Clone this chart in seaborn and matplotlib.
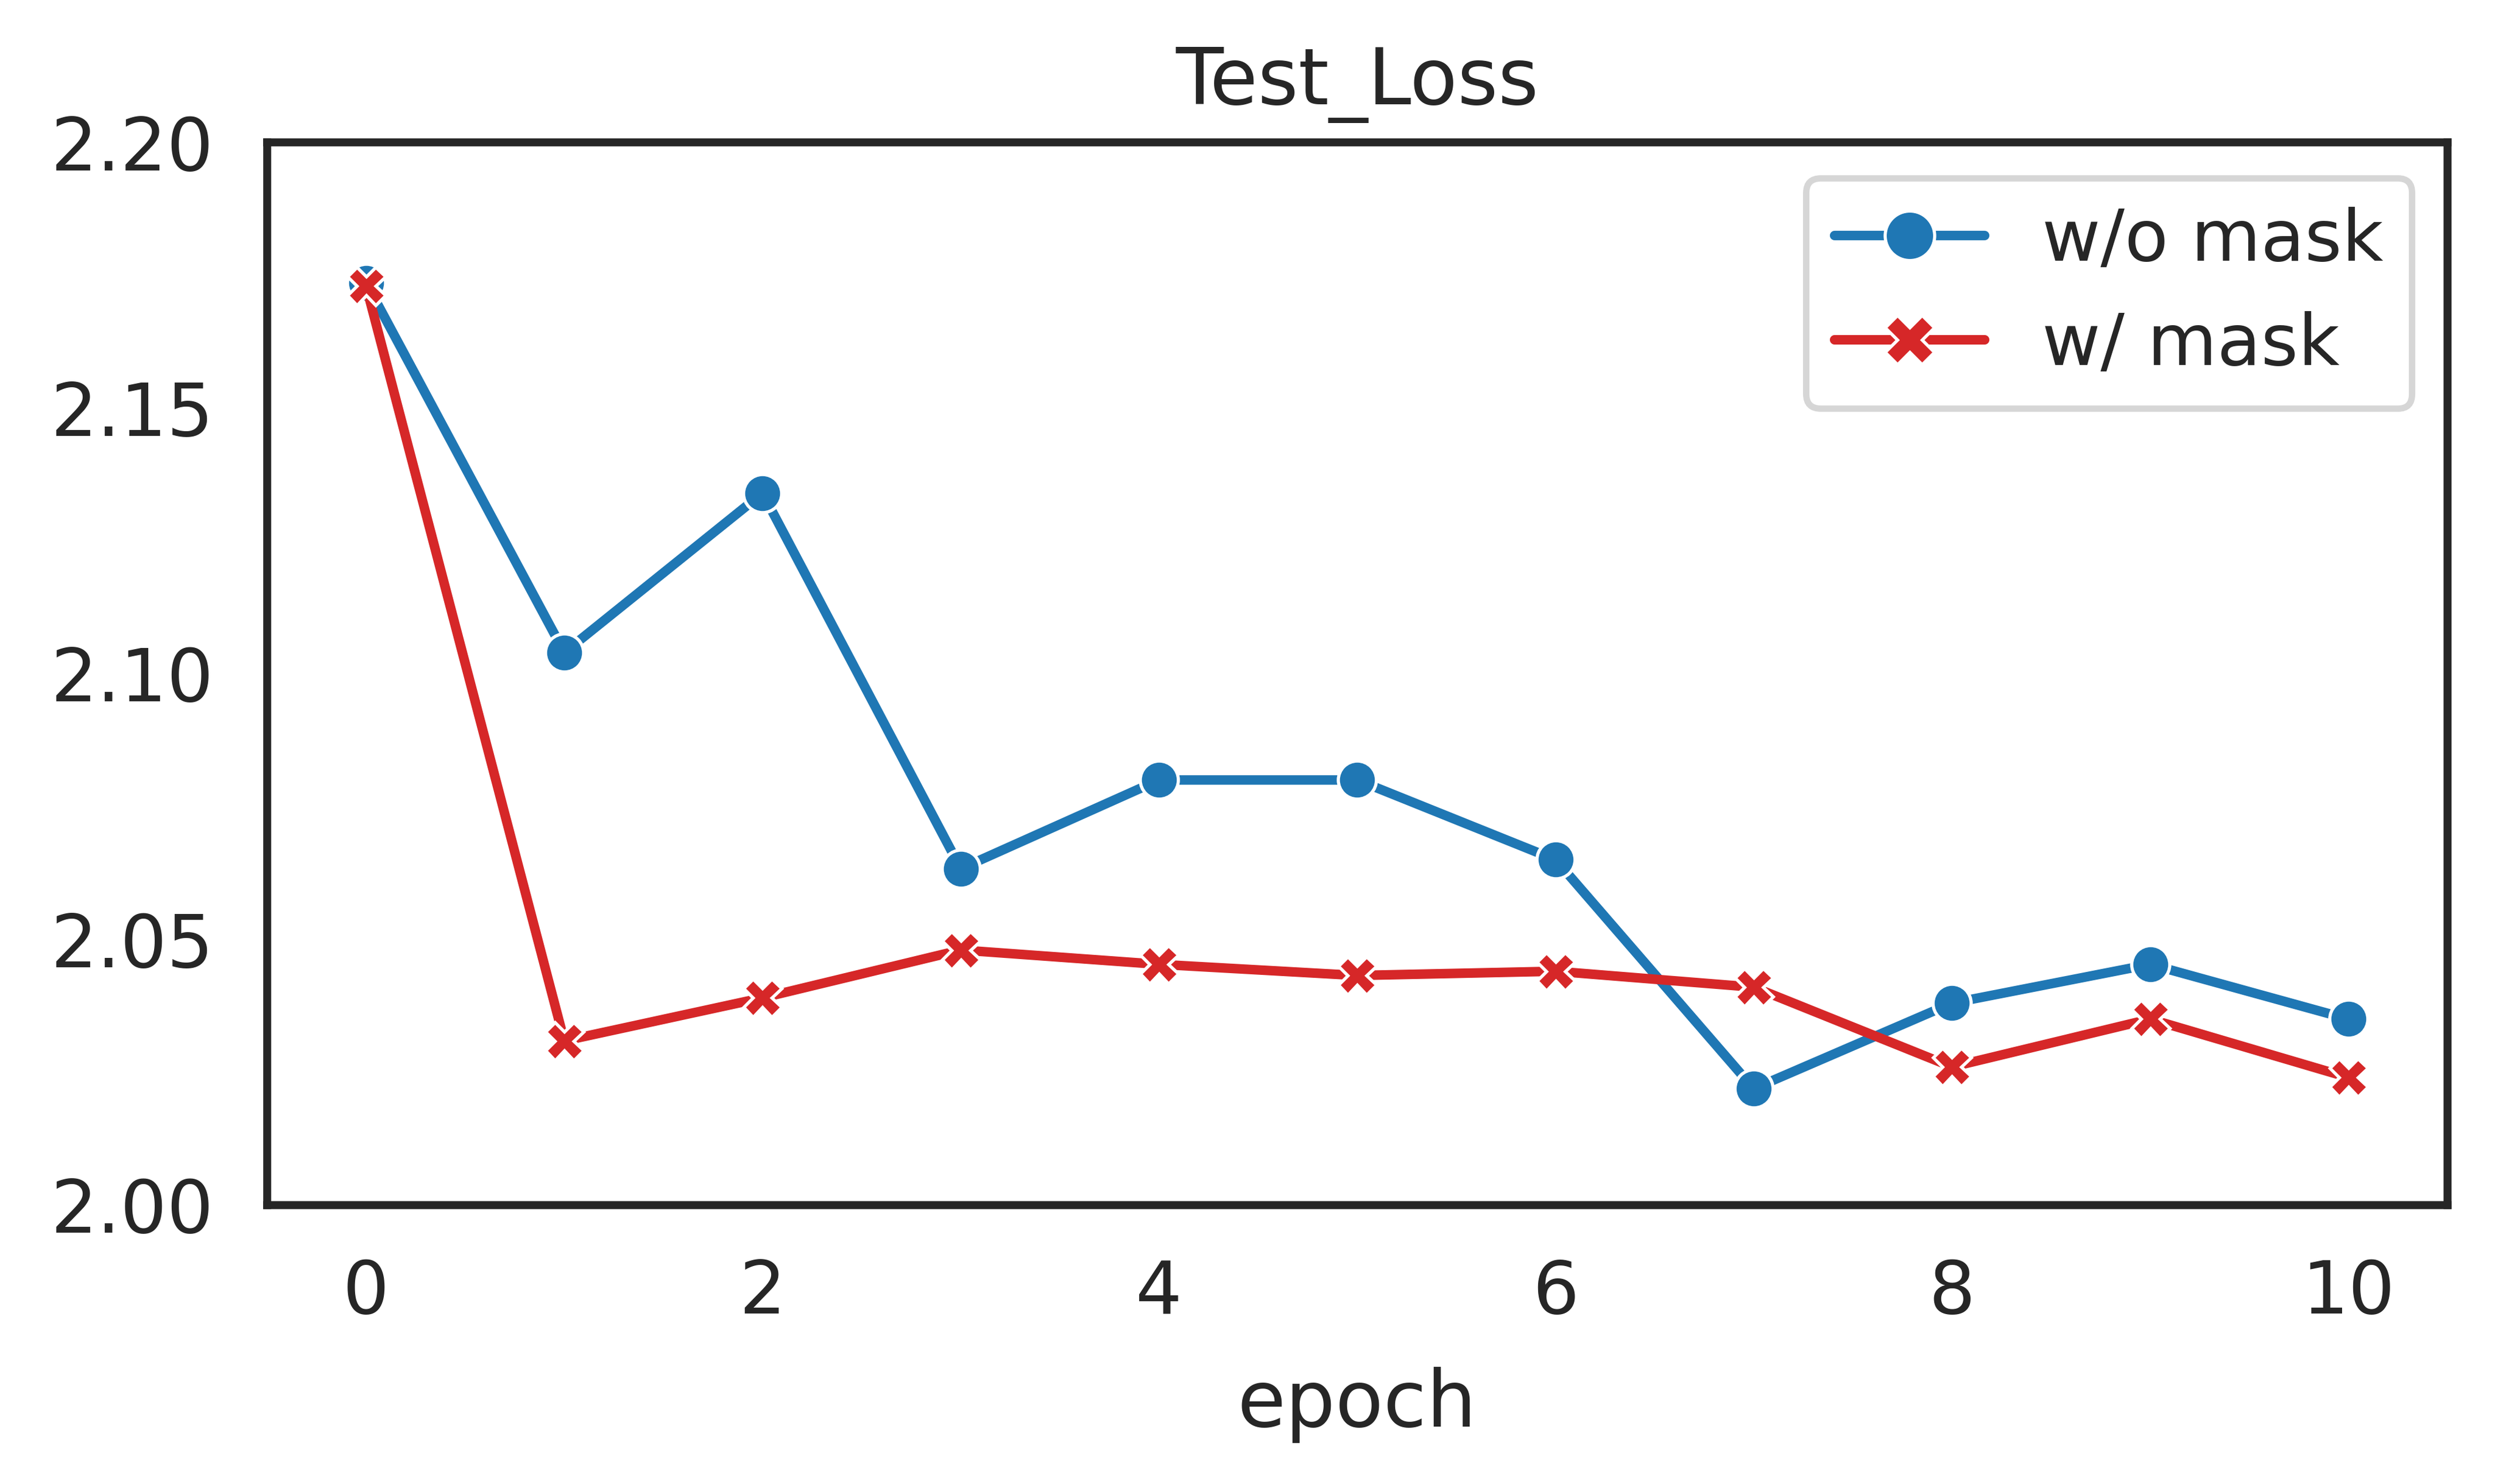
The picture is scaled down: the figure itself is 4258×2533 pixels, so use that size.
import numpy as np
import matplotlib
matplotlib.use("Agg")
import matplotlib.pyplot as plt
import seaborn as sns
import pandas as pd

epochs = list(range(11))
loss_no_mask = [2.1736, 2.104, 2.134, 2.0633, 2.080, 2.080, 2.065, 2.0219, 2.038, 2.0453, 2.035]
loss_mask = [2.173, 2.0309, 2.039, 2.048, 2.0453, 2.0432, 2.044, 2.041, 2.026, 2.035, 2.024]
labels = ["w/o mask", "w/ mask"]
colors = ["#1f77b4", "#d62728"]

df = pd.DataFrame({
    "epoch": epochs * 2,
    "loss": loss_no_mask + loss_mask,
    "model": [labels[0]] * len(epochs) + [labels[1]] * len(epochs),
})

sns.set_theme(context="talk", style="white")

dpi = 520
fig, ax = plt.subplots(figsize=(4258 / dpi, 2533 / dpi))
sns.lineplot(data=df, x="epoch", y="loss", hue="model", style="model",
             hue_order=labels, style_order=labels, palette=colors,
             markers=True, dashes=False, ax=ax)
ax.set_ylim(2.00, 2.20)
ax.set_xticks([0, 2, 4, 6, 8, 10])
ax.set_yticks([2.00, 2.05, 2.10, 2.15, 2.20])
ax.tick_params(axis="both", labelsize=17.3)
ax.set_ylabel("")
ax.set_xlabel("epoch", fontsize=18.6, labelpad=9)
ax.set_title("Test_Loss", fontsize=18.4, pad=9)
ax.legend(loc="upper right", markerscale=1.3, fontsize=16.9, handlelength=2.1)
plt.subplots_adjust(left=0.107, right=0.981, top=0.904, bottom=0.188)
fig.savefig("out.png", dpi=dpi)
